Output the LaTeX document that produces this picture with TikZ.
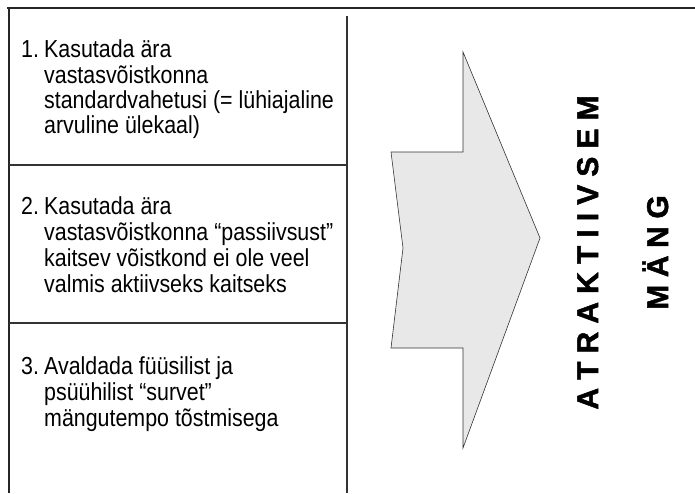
\documentclass[tikz,border=0pt]{standalone}
\usepackage{graphicx}
\usepackage{fontspec}
\setmainfont{Liberation Sans}
\newfontfamily\heavyfont{Liberation Sans Bold}[FakeBold=1.6]
\newcommand{\talltext}[1]{\scalebox{1}[1.15]{#1}}
\newcommand{\gp}{\hspace{8.1pt}}
\newcommand{\gq}{\hspace{7.6pt}}
\begin{document}
\begin{tikzpicture}[x=1pt,y=-1pt,
  frame/.style={draw=black!85, line width=1.8pt},
  divider/.style={draw=black!80, line width=1.2pt},
  itemtxt/.style={anchor=base west, inner sep=0pt, font=\fontsize{21.4}{26.7}\selectfont},
  bigtxt/.style={anchor=base, inner sep=0pt, rotate=90, font=\heavyfont\fontsize{30}{34}\selectfont},
  arrowshape/.style={draw=black!80, line width=0.6pt, fill=black!9}]
\useasboundingbox (0,0) rectangle (695,493);
% frame
\coordinate (tl) at (9,8);
\coordinate (tr) at (695,8);
\coordinate (bl) at (9,493);
\coordinate (mt) at (347,16);
\coordinate (mb) at (347,493);
\coordinate (d1l) at (9,165);
\coordinate (d1r) at (347,165);
\coordinate (d2l) at (9,323);
\coordinate (d2r) at (347,323);
\draw[frame] (7,8) -- (tr);
\draw[frame] (tl) -- (bl);
\draw[divider] (mt) -- (mb);
\draw[divider] (d1l) -- (d1r);
\draw[divider] (d2l) -- (d2r);
% item 1
\node[itemtxt] (n1) at (21,57) {\talltext{1.}};
\node[itemtxt] (a1) at (44,57) {\talltext{Kasutada ära}};
\node[itemtxt] (a2) at (44,83) {\talltext{vastasvõistkonna}};
\node[itemtxt] (a3) at (44,108) {\talltext{standardvahetusi (= lühiajaline}};
\node[itemtxt] (a4) at (44,133) {\talltext{arvuline ülekaal)}};
% item 2
\node[itemtxt] (n2) at (21,214) {\talltext{2.}};
\node[itemtxt] (b1) at (44,214) {\talltext{Kasutada ära}};
\node[itemtxt] (b2) at (44,240) {\talltext{vastasvõistkonna “passiivsust”}};
\node[itemtxt] (b3) at (44,266) {\talltext{kaitsev võistkond ei ole veel}};
\node[itemtxt] (b4) at (44,292) {\talltext{valmis aktiivseks kaitseks}};
% item 3
\node[itemtxt] (n3) at (21,374) {\talltext{3.}};
\node[itemtxt] (c1) at (44,374) {\talltext{Avaldada füüsilist ja}};
\node[itemtxt] (c2) at (44,400) {\talltext{psüühilist “survet”}};
\node[itemtxt] (c3) at (44,426) {\talltext{mängutempo tõstmisega}};
% arrow
\draw[arrowshape] (463,52) -- (540,238) -- (463,448) -- (463,348) -- (391,348)
  -- (403,248) -- (391,152) -- (463,152) -- cycle;
% titles
\node[bigtxt] (t1) at (598,252.5) {A\gp T\gp R\gp A\gp K\gp T\gp I\gp I\gp V\gp S\gp E\gp M};
\node[bigtxt] (t2) at (668,252.5) {M\gq Ä\gq N\gq G};
\end{tikzpicture}
\end{document}
